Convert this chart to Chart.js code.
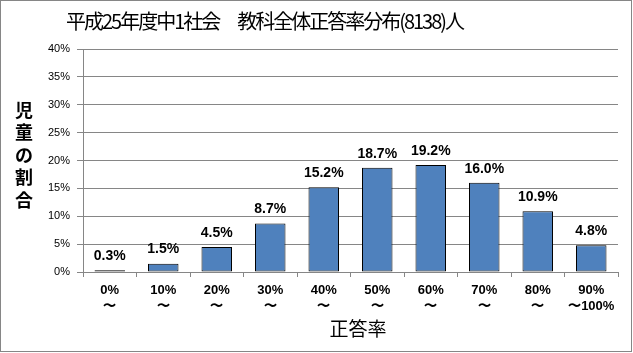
<!DOCTYPE html>
<html>
<head>
<meta charset="utf-8">
<script src="https://cdn.jsdelivr.net/npm/chart.js@4/dist/chart.umd.min.js"></script>
<style>
  html, body { margin: 0; padding: 0; background: #fff; }
  #wrap { width: 633px; height: 353px; position: relative; }
</style>
</head>
<body>
<div id="wrap"><canvas id="chart" width="633" height="353"></canvas></div>
<script>
var categories = [["0%","〜"],["10%","〜"],["20%","〜"],["30%","〜"],["40%","〜"],["50%","〜"],["60%","〜"],["70%","〜"],["80%","〜"],["90%","〜100%"]];
var ratios = [0.3, 1.5, 4.5, 8.7, 15.2, 18.7, 19.2, 16.0, 10.9, 4.8];
var yTicks = [0, 5, 10, 15, 20, 25, 30, 35, 40];

var jp = '"Noto Sans CJK JP", "Noto Sans", sans-serif';
var lat = '"Liberation Sans", Arial, sans-serif';

// draws text char by char so it fills a given width
function spreadText(ctx, text, left, y, width) {
  var chars = text.split('');
  var total = 0;
  chars.forEach(function(c) { total += ctx.measureText(c).width; });
  var gap = (width - total) / (chars.length - 1);
  var x = left;
  ctx.textAlign = 'left';
  chars.forEach(function(c) {
    ctx.fillText(c, x, y);
    x += ctx.measureText(c).width + gap;
  });
}

// title, axis titles, data labels, frame
var extras = {
  id: 'extras',
  afterDraw: function(chart) {
    var ctx = chart.ctx;
    ctx.save();
    ctx.strokeStyle = '#868686';
    ctx.lineWidth = 1;
    ctx.strokeRect(0.5, 0.5, 631, 351);

    ctx.fillStyle = '#000';
    ctx.textBaseline = 'middle';
    ctx.font = '20px ' + jp;
    spreadText(ctx, '平成25年度中1社会\u3000教科全体正答率分布(8138)人', 66, 21, 399);

    ctx.textAlign = 'center';
    ctx.font = '19px ' + jp;
    ctx.fillText('正答率', 358, 329);

    ctx.font = 'bold 18px ' + jp;
    var yt = '児童の割合';
    for (var i = 0; i < yt.length; i++) {
      ctx.fillText(yt[i], 24, 110 + i * 22.5);
    }

    var meta = chart.getDatasetMeta(0);
    ctx.font = 'bold 14px ' + lat;
    ctx.textBaseline = 'bottom';
    meta.data.forEach(function(bar, j) {
      ctx.fillText(ratios[j].toFixed(1) + '%', bar.x, bar.y - 7);
    });
    ctx.restore();
  }
};

new Chart(document.getElementById('chart'), {
  type: 'bar',
  data: {
    labels: categories,
    datasets: [{
      data: ratios,
      backgroundColor: '#4F81BD',
      borderColor: '#000000',
      borderWidth: 1,
      borderSkipped: false,
      categoryPercentage: 0.57,
      barPercentage: 1.0
    }]
  },
  options: {
    responsive: false,
    animation: false,
    layout: { padding: { top: 49, right: 15, bottom: 0, left: 0 } },
    plugins: {
      legend: { display: false },
      title: { display: false },
      tooltip: { enabled: false }
    },
    scales: {
      x: {
        offset: true,
        grid: { offset: true, drawOnChartArea: false, drawTicks: true, tickLength: 5, color: '#868686' },
        border: { color: '#868686' },
        ticks: { color: '#000', padding: 6, maxRotation: 0, font: { family: lat, size: 13, weight: 'bold' } },
        afterFit: function(s) { s.height = 81; }
      },
      y: {
        min: 0,
        max: 40,
        afterBuildTicks: function(s) { s.ticks = yTicks.map(function(v) { return { value: v }; }); },
        grid: { color: '#868686', tickLength: 6 },
        border: { color: '#868686' },
        ticks: {
          color: '#000', padding: 7,
          font: { family: lat, size: 11 },
          callback: function(v) { return v + '%'; }
        },
        afterFit: function(s) { s.width = 83; }
      }
    }
  },
  plugins: [extras]
});
</script>
</body>
</html>
